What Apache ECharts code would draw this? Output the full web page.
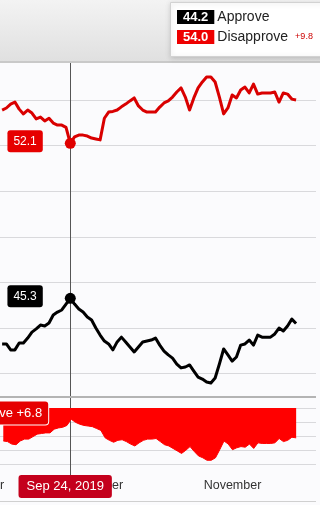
<!DOCTYPE html>
<html><head><meta charset="utf-8">
<script src="https://cdn.jsdelivr.net/npm/echarts@6/dist/echarts.min.js"></script>
<style>html,body{margin:0;padding:0;background:#fbfbfd;overflow:hidden;width:320px;height:505px;position:relative}#c{position:absolute;left:-60px;top:0;width:380px;height:505px}</style>
</head><body><div id="c"></div>
<script>
const dates = ['2019-09-08','2019-09-09','2019-09-10','2019-09-11','2019-09-12','2019-09-13','2019-09-14','2019-09-15','2019-09-16','2019-09-17',
'2019-09-18','2019-09-19','2019-09-20','2019-09-21','2019-09-22','2019-09-23','2019-09-24','2019-09-25','2019-09-26','2019-09-27',
'2019-09-28','2019-09-29','2019-09-30','2019-10-01','2019-10-02','2019-10-03','2019-10-04','2019-10-05','2019-10-06','2019-10-07',
'2019-10-08','2019-10-09','2019-10-10','2019-10-11','2019-10-12','2019-10-13','2019-10-14','2019-10-15','2019-10-16','2019-10-17',
'2019-10-18','2019-10-19','2019-10-20','2019-10-21','2019-10-22','2019-10-23','2019-10-24','2019-10-25','2019-10-26','2019-10-27',
'2019-10-28','2019-10-29','2019-10-30','2019-10-31','2019-11-01','2019-11-02','2019-11-03','2019-11-04','2019-11-05','2019-11-06',
'2019-11-07','2019-11-08','2019-11-09','2019-11-10','2019-11-11','2019-11-12','2019-11-13','2019-11-14','2019-11-15','2019-11-16'];
const approve = [43.3,43.3,43.04,43.04,43.34,43.34,43.56,43.82,43.96,44.13,
44.09,44.22,44.57,44.7,44.79,45.05,45.3,45.05,44.83,44.7,
44.48,44.35,44.0,43.69,43.43,43.3,43.04,43.39,43.6,43.39,
43.17,42.95,43.17,43.39,43.43,43.47,43.56,43.25,42.99,42.82,
42.68,42.42,42.25,42.29,42.38,42.11,41.85,41.76,41.63,41.59,
41.81,42.42,43.08,42.82,42.55,42.73,43.25,43.3,43.47,43.25,
43.69,43.6,43.6,43.6,43.74,44.0,43.87,44.09,44.39,44.2];
const disapprove = [53.56,53.65,53.82,53.91,53.6,53.39,53.56,53.43,53.17,53.25,
53.08,53.2,52.99,52.9,52.9,52.8,52.1,52.38,52.46,52.46,
52.42,52.33,52.29,52.25,53.2,53.47,53.5,53.56,53.7,53.82,
53.96,54.09,53.74,53.56,53.47,53.47,53.47,53.69,53.87,53.96,
54.13,54.35,54.53,54.13,53.56,54.09,54.53,54.79,55.01,55.01,
54.79,54.13,53.39,53.65,54.22,54.09,54.44,54.57,54.31,54.7,
54.26,54.31,54.31,54.31,54.35,53.91,54.31,54.26,54.04,54.0];
const spread = [10.3,10.4,10.8,10.9,10.3,10.0,10.0,9.6,9.2,9.1,
9.0,9.0,8.4,8.2,8.1,7.8,6.8,7.3,7.6,7.8,
7.9,8.0,8.3,8.6,9.8,10.2,10.5,10.2,10.1,10.4,
10.8,11.1,10.6,10.2,10.0,10.0,9.9,10.4,10.9,11.1,
11.5,11.9,12.3,11.8,11.2,12.0,12.7,13.0,13.4,13.4,
13.0,11.7,10.3,10.8,11.7,11.4,11.2,11.3,10.8,11.5,
10.6,10.7,10.7,10.7,10.6,9.9,10.4,10.2,9.7,9.8];
const monthTicks = ['2019-09-01','2019-10-01','2019-11-01'];
const monthLabels = ['September','October','November'];
const mainGridValues = [42,44,46,48,50,52,54];
const spreadGridValues = [5,7.25,9.5,11.75,14];
const hoverIndex = 16;
const shortMonths = ['Jan','Feb','Mar','Apr','May','Jun','Jul','Aug','Sep','Oct','Nov','Dec'];

const ts = s => { const p = s.split('-').map(Number); return Date.UTC(p[0], p[1]-1, p[2]); };
const xMin = Date.UTC(2019,7,24,10,0);
const xMax = Date.UTC(2019,10,20,16,15);
const monthTs = monthTicks.map(ts);
const hoverTs = ts(dates[hoverIndex]);
const hd = new Date(hoverTs);
const hoverText = shortMonths[hd.getUTCMonth()] + ' ' + hd.getUTCDate() + ', ' + hd.getUTCFullYear();
const FONT = 'Liberation Sans';
const OFF = 60; // hidden left margin of the canvas
const gridLine = vals => ({
  silent: true, symbol: ['none','none'], z: 1,
  label: {show: false}, emphasis: {disabled: true},
  lineStyle: {color: '#d9d9dc', width: 1, type: 'solid'},
  data: vals.map(v => ({yAxis: v}))
});
const last = a => a[a.length-1];

const chart = echarts.init(document.getElementById('c'), null, {renderer: 'canvas'});
chart.setOption({
  backgroundColor: '#fbfbfd',
  animation: false,
  textStyle: {fontFamily: FONT},
  title: {
    left: 170 + OFF, top: -1, z: 20,
    padding: [8, 14, 13, 7],
    backgroundColor: '#ffffff', borderColor: '#d2d2d2', borderWidth: 1,
    shadowBlur: 5, shadowColor: 'rgba(0,0,0,0.18)', shadowOffsetY: 1,
    text: '{b|' + last(approve).toFixed(1) + '}{t|Approve}\n{r|' + last(disapprove).toFixed(1) + '}{t|Disapprove}{s|+' + last(spread).toFixed(1) + '}',
    textStyle: {
      fontFamily: FONT, fontWeight: 'normal',
      rich: {
        b: {backgroundColor: '#000', color: '#fff', fontSize: 13, fontWeight: 'bold', fontFamily: FONT, height: 14, lineHeight: 14, padding: [0, 6]},
        r: {backgroundColor: '#ee0000', color: '#fff', fontSize: 13, fontWeight: 'bold', fontFamily: FONT, height: 14, lineHeight: 14, padding: [0, 6]},
        t: {color: '#222', fontSize: 14, fontWeight: 'normal', fontFamily: FONT, lineHeight: 20, padding: [0, 0, 0, 3]},
        s: {color: '#cc0000', fontSize: 9, fontWeight: 'normal', fontFamily: FONT, lineHeight: 20, padding: [0, 0, 0, 7]}
      }
    }
  },
  grid: [
    {left: 0, right: 4, top: 62, height: 335},
    {left: 0, right: 4, top: 408, height: 56}
  ],
  xAxis: [
    {type: 'value', gridIndex: 0, min: xMin, max: xMax, show: false},
    {type: 'value', gridIndex: 1, min: xMin, max: xMax,
     axisLine: {show: false}, axisTick: {show: false}, splitLine: {show: false},
     axisLabel: {customValues: monthTs, margin: 15, color: '#333', fontSize: 12.5, fontFamily: FONT,
       formatter: v => { const i = monthTs.indexOf(v); return i >= 0 ? monthLabels[i] : ''; }}}
  ],
  yAxis: [
    {type: 'value', gridIndex: 0, min: 40.974, max: 55.667, show: false},
    {type: 'value', gridIndex: 1, min: 5, max: 14, inverse: true, show: false}
  ],
  series: [
    {type: 'line', xAxisIndex: 0, yAxisIndex: 0, data: [], z: 1, markLine: gridLine(mainGridValues)},
    {type: 'line', xAxisIndex: 1, yAxisIndex: 1, data: [], z: 1, markLine: gridLine(spreadGridValues)},
    {name: 'Spread', type: 'line', xAxisIndex: 1, yAxisIndex: 1, z: 2,
     data: dates.map((d, i) => [ts(d), spread[i]]),
     symbol: 'none', lineStyle: {width: 1, color: '#ff0000'},
     areaStyle: {color: '#ff0000', opacity: 1, origin: 'start'},
     markPoint: {
       silent: true, symbol: 'circle', symbolSize: 0,
       data: [
         {coord: [hoverTs, 5], label: {show: true, position: 'left', distance: 23, offset: [0, 5],
           formatter: 'Disapprove +' + spread[hoverIndex].toFixed(1),
           color: '#fff', fontSize: 13, fontFamily: FONT, backgroundColor: '#e60000',
           borderColor: '#ffffff', borderWidth: 1, borderRadius: 3, padding: [5, 6]}},
         {coord: [hoverTs, 14], label: {show: true, position: 'bottom', distance: 11, offset: [-6, 0],
           formatter: hoverText,
           color: '#fff', fontSize: 13, fontFamily: FONT, backgroundColor: '#c4001c',
           borderRadius: 3, padding: [5, 8]}}
       ]
     }},
    {name: 'Disapprove', type: 'line', xAxisIndex: 0, yAxisIndex: 0, z: 3,
     data: dates.map((d, i) => [ts(d), disapprove[i]]),
     symbol: 'none', lineStyle: {width: 3, color: '#d90000', join: 'round'},
     markPoint: {silent: true, symbol: 'circle', symbolSize: 11, itemStyle: {color: '#e00000'},
       data: [{coord: [hoverTs, disapprove[hoverIndex]], label: {show: true, position: 'left', distance: 22, offset: [0, -2],
         formatter: disapprove[hoverIndex].toFixed(1), color: '#fff', fontSize: 12, fontFamily: FONT,
         backgroundColor: '#e60000', borderRadius: 3, padding: [5, 6]}}]}},
    {name: 'Approve', type: 'line', xAxisIndex: 0, yAxisIndex: 0, z: 3,
     data: dates.map((d, i) => [ts(d), approve[i]]),
     symbol: 'none', lineStyle: {width: 3, color: '#000', join: 'round'},
     markPoint: {silent: true, symbol: 'circle', symbolSize: 11, itemStyle: {color: '#000'},
       data: [{coord: [hoverTs, approve[hoverIndex]], label: {show: true, position: 'left', distance: 22, offset: [0, -2],
         formatter: approve[hoverIndex].toFixed(1), color: '#fff', fontSize: 12, fontFamily: FONT,
         backgroundColor: '#000', borderRadius: 3, padding: [5, 6]}}]}}
  ]
});

const cx = Math.round(chart.convertToPixel({xAxisIndex: 0}, hoverTs)) + 0.5;
chart.setOption({
  graphic: {elements: [
    {type: 'rect', id: 'hdr', z: 0, silent: true, shape: {x: 0, y: 0, width: 320 + OFF, height: 61},
     style: {fill: new echarts.graphic.LinearGradient(0, 0, 0, 1, [{offset: 0, color: '#f3f3f3'}, {offset: 1, color: '#e0e0e0'}])}},
    {type: 'rect', id: 'hdrline', z: 0, silent: true, shape: {x: 0, y: 61, width: 320 + OFF, height: 2}, style: {fill: '#c9c9c9'}},
    {type: 'rect', id: 'sep', z: 4, silent: true, shape: {x: 0, y: 396, width: 316 + OFF, height: 2}, style: {fill: '#b4b4b4'}},
    {type: 'rect', id: 'bot', z: 0, silent: true, shape: {x: 0, y: 501, width: 316 + OFF, height: 1}, style: {fill: '#d0d0d0'}},
    {type: 'line', id: 'cross', z: 1.5, silent: true, shape: {x1: cx, y1: 63, x2: cx, y2: 475}, style: {stroke: '#555', lineWidth: 1}}
  ]}
});
</script></body></html>
